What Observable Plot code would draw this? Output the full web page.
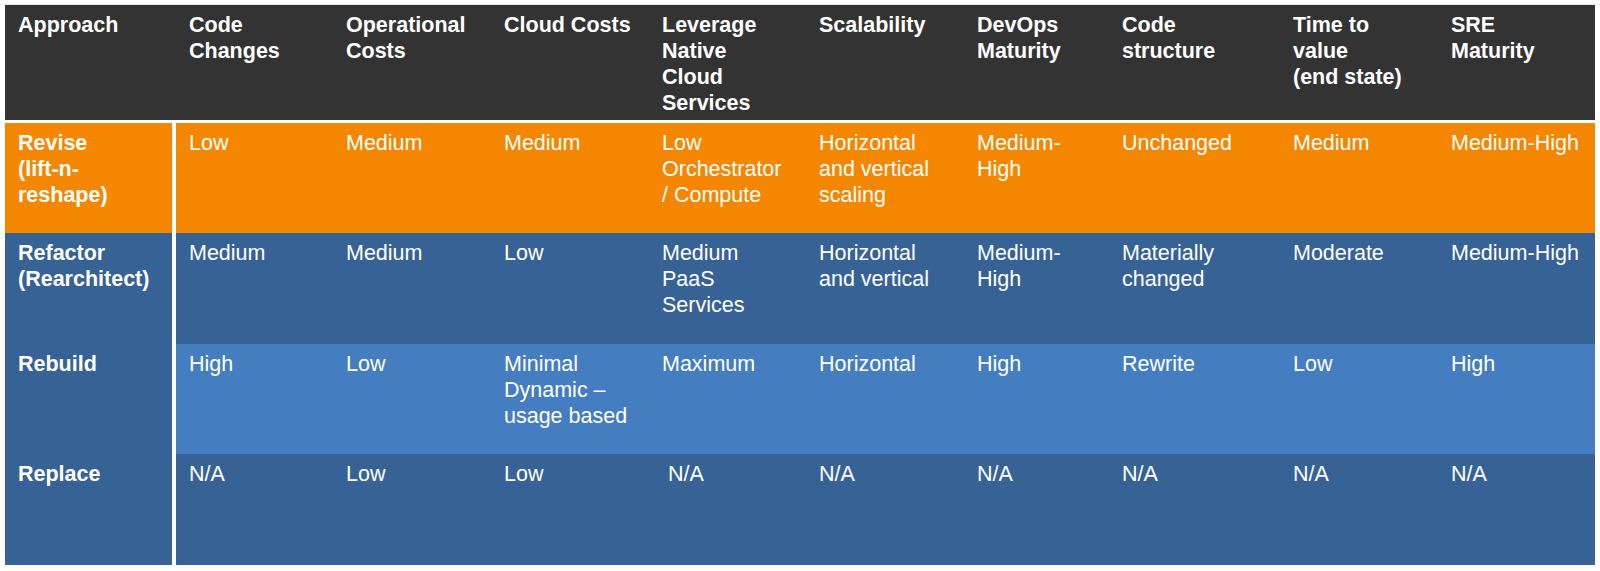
<!DOCTYPE html>
<html>
<head>
<meta charset="utf-8">
<script src="https://cdn.jsdelivr.net/npm/d3@7"></script>
<script src="https://cdn.jsdelivr.net/npm/@observablehq/plot@0.6"></script>
<style>
  html, body { margin: 0; padding: 0; background: #ffffff; }
  svg { display: block; }
</style>
</head>
<body>
<div id="chart"></div>
<script>
// ---- DATA ----
const headers = [
  "Approach",
  "Code\nChanges",
  "Operational\nCosts",
  "Cloud Costs",
  "Leverage\nNative\nCloud\nServices",
  "Scalability",
  "DevOps\nMaturity",
  "Code\nstructure",
  "Time to\nvalue\n(end state)",
  "SRE\nMaturity"
];
const approaches = [
  "Revise\n(lift-n-\nreshape)",
  "Refactor\n(Rearchitect)",
  "Rebuild",
  "Replace"
];
const revise = ["Low", "Medium", "Medium", "Low\nOrchestrator\n/ Compute", "Horizontal\nand vertical\nscaling", "Medium-\nHigh", "Unchanged", "Medium", "Medium-High"];
const refactor = ["Medium", "Medium", "Low", "Medium\nPaaS\nServices", "Horizontal\nand vertical", "Medium-\nHigh", "Materially\nchanged", "Moderate", "Medium-High"];
const rebuild = ["High", "Low", "Minimal\nDynamic \u2013\nusage based", "Maximum", "Horizontal", "High", "Rewrite", "Low", "High"];
const replace = ["N/A", "Low", "Low", "\u00a0N/A", "N/A", "N/A", "N/A", "N/A", "N/A"];
const values = [revise, refactor, rebuild, replace];

// ---- LAYOUT & STYLE (kept separate from data) ----
const colEdges = [5, 176, 333, 491, 649, 806, 964, 1109, 1280, 1438, 1595];
const rowEdges = [5, 123, 233, 344, 454, 565];
const headerFill = "#333333";
const approachFill = ["#f58700", "#366296", "#366296", "#366296"];
const cellFill = ["#f58700", "#366296", "#447dc0", "#366296"];
const fontSize = 21.5;

// ---- TABLES BUILT FROM DATA ----
const headerCells = headers.map((label, col) => ({col, row: 0, label}));
const rowCells = approaches.map((label, r) => ({col: 0, row: r + 1, label, fill: approachFill[r]}));
const dataCells = values.flatMap((vals, r) =>
  vals.map((label, c) => ({col: c + 1, row: r + 1, label, fill: cellFill[r]}))
);

const textOpts = {
  x: "col",
  y: "row",
  text: "label",
  fill: "#ffffff",
  fontSize,
  textAnchor: "start",
  lineAnchor: "top",
  lineHeight: 1.215,
  dx: 12.5,
  dy: 8
};

const chart = Plot.plot({
  width: 1600,
  height: 571,
  margin: 0,
  x: {type: "linear", domain: d3.range(colEdges.length), range: colEdges, axis: null},
  y: {type: "linear", domain: d3.range(rowEdges.length), range: rowEdges, axis: null},
  style: {fontFamily: "'Liberation Sans', Arial, Helvetica, sans-serif", background: "#ffffff"},
  marks: [
    // thin top border
    Plot.ruleY(headerCells.slice(0, 1), {y: "row", x1: () => 0, x2: () => headers.length, stroke: "#c8c8c8", dy: -0.5}),
    // header band
    Plot.rect(headerCells, {
      x1: "col", x2: d => d.col + 1, y1: "row", y2: d => d.row + 1,
      fill: headerFill, insetBottom: 3, shapeRendering: "crispEdges"
    }),
    // approach column cells (white separator on the right)
    Plot.rect(rowCells, {
      x1: "col", x2: d => d.col + 1, y1: "row", y2: d => d.row + 1,
      fill: "fill", insetRight: 4, shapeRendering: "crispEdges"
    }),
    // data cells
    Plot.rect(dataCells, {
      x1: "col", x2: d => d.col + 1, y1: "row", y2: d => d.row + 1,
      fill: "fill", shapeRendering: "crispEdges"
    }),
    // texts
    Plot.text(headerCells, {...textOpts, fontWeight: "bold"}),
    Plot.text(rowCells, {...textOpts, fontWeight: "bold"}),
    Plot.text(dataCells, {...textOpts})
  ]
});

document.getElementById("chart").appendChild(chart);
</script>
</body>
</html>
